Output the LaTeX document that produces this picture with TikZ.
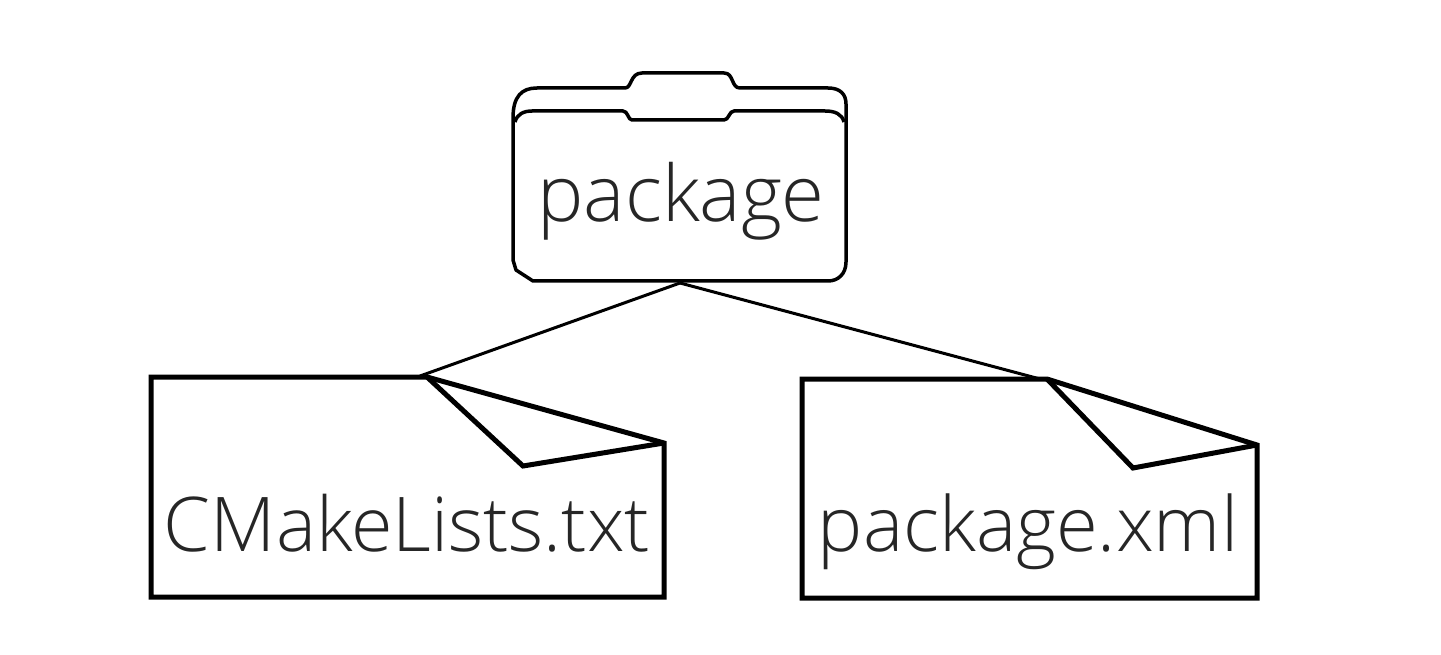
\documentclass[tikz,border=0pt]{standalone}
\usepackage{fontspec}
\setmainfont{Open Sans Light}
\tikzstyle{label} = [anchor=base, inner sep=0pt, text=black!85]
\tikzstyle{filebox} = [line width=5pt, line join=miter]
\tikzstyle{folder} = [line width=3.5pt, line join=round]
\tikzstyle{branch} = [line width=3pt]

\begin{document}
\begin{tikzpicture}[x=1pt,y=-1pt]
      \useasboundingbox (0,0) rectangle (1441,655);

      \node[label, font=\fontsize{78}{90}\selectfont] (package) at (681,222) {package};
      \node[label, font=\fontsize{75.5}{90}\selectfont] (cmake) at (407,551) {CMakeLists.txt};
      \node[label, font=\fontsize{76}{90}\selectfont] (xml) at (1028,551) {package.xml};

      \coordinate (pkgtip) at (680,283);
      \coordinate (cmaketop) at (420,376);
      \coordinate (xmltop) at (1040,379);

      % folder
      \draw[folder] (513,118) .. controls (513,96) and (522,88) .. (537,88) -- (625,88)
        .. controls (632,88) and (630,73) .. (642,73) -- (724,73)
        .. controls (734,73) and (731,88) .. (740,88) -- (828,88)
        .. controls (840,88) and (846,94) .. (846,104) -- (846,262)
        .. controls (846,274) and (838,281) .. (828,281) -- (533,281)
        -- (516,270) -- (513,260) -- cycle;
      \draw[folder] (515,122) .. controls (517,114) and (524,111) .. (532,111) -- (623,111)
        .. controls (628,111) and (628,120) .. (632,120) -- (724,120)
        .. controls (729,120) and (729,111) .. (734,111) -- (825,111)
        .. controls (835,111) and (842,114) .. (844,122);

      % files
      \draw[filebox] (664,443) -- (664,597) -- (151,597) -- (151,377) -- (427,377) -- cycle;
      \draw[filebox] (427,377) -- (523,466) -- (664,443);
      \draw[filebox] (1257,445) -- (1257,598) -- (802,598) -- (802,379) -- (1047,379) -- cycle;
      \draw[filebox] (1047,379) -- (1133,468) -- (1257,445);

      \draw[branch] (pkgtip) -- (cmaketop);
      \draw[branch] (pkgtip) -- (xmltop);
    \end{tikzpicture}
\end{document}
